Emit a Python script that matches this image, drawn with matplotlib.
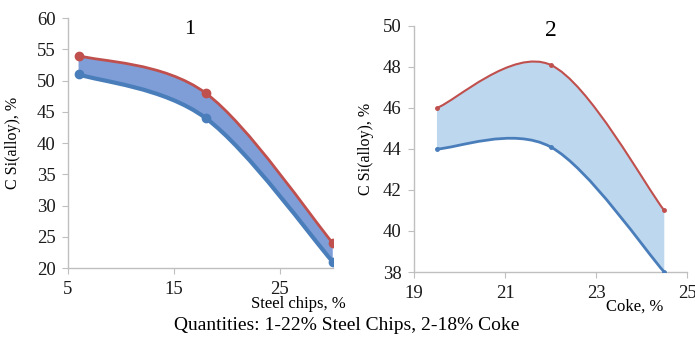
import numpy as np
import matplotlib
matplotlib.use("Agg")
import matplotlib.pyplot as plt
from matplotlib.path import Path
from matplotlib.patches import PathPatch

plt.rcParams['font.family'] = ['Liberation Serif', 'DejaVu Serif']

# chart 1: steel chips
chips_x = [6, 18, 30]
chips_upper = [54, 48, 24]
chips_lower = [51, 44, 21]

# chart 2: coke
coke_x = [19.5, 22, 24.5]
coke_upper = [46, 48.1, 41]
coke_lower = [44, 44.1, 38]

RED = "#c0504d"
BLUE = "#4a7ebb"
AXIS = "#bfbfbf"


def smooth_verts(x, y):
    # Excel-style smoothed line: Catmull-Rom as cubic bezier segments
    p = np.column_stack([x, y]).astype(float)
    n = len(p)
    verts = [p[0]]
    codes = [Path.MOVETO]
    for i in range(n - 1):
        prev = p[i - 1] if i > 0 else p[i]
        nxt = p[i + 2] if i + 2 < n else p[i + 1]
        c1 = p[i] + (p[i + 1] - prev) / 6
        c2 = p[i + 1] - (nxt - p[i]) / 6
        verts += [c1, c2, p[i + 1]]
        codes += [Path.CURVE4] * 3
    return verts, codes


def draw_band(ax, x, upper, lower, fill, lw_up, lw_low, ms):
    vu, cu = smooth_verts(x, upper)
    vl, cl = smooth_verts(x, lower)
    band_v = vu + [vl[-1]] + vl[::-1][1:] + [vu[0]]
    band_c = cu + [Path.LINETO] + [Path.CURVE4] * (len(vl) - 1) + [Path.CLOSEPOLY]
    ax.add_patch(PathPatch(Path(band_v, band_c), fc=fill, ec="none", zorder=2))
    ax.add_patch(PathPatch(Path(vl, cl), fill=False, ec=BLUE, lw=lw_low,
                           capstyle="round", zorder=3))
    ax.add_patch(PathPatch(Path(vu, cu), fill=False, ec=RED, lw=lw_up,
                           capstyle="round", zorder=4))
    ax.plot(x, lower, "o", color=BLUE, ms=ms, zorder=5)
    ax.plot(x, upper, "o", color=RED, ms=ms, zorder=5)


def style(ax):
    for s in ["top", "right"]:
        ax.spines[s].set_visible(False)
    for s in ["left", "bottom"]:
        ax.spines[s].set_color(AXIS)
        ax.spines[s].set_linewidth(1.0)
    ax.tick_params(direction="out", length=4, labelsize=13.5, pad=5,
                   colors=AXIS, labelcolor="#1a1a1a")


fig = plt.figure(figsize=(6.95, 3.41), dpi=100)

ax1 = fig.add_axes([0.0978, 0.214, 0.381, 0.733])
draw_band(ax1, chips_x, chips_upper, chips_lower, "#7f9ed8", 2.0, 3.0, 6)
ax1.set_xlim(5, 30)
ax1.set_ylim(20, 60)
ax1.set_xticks([5, 15, 25])
ax1.set_yticks(range(20, 61, 5))
style(ax1)
ax1.set_ylabel("C Si(alloy), %", fontsize=11.5)
ax1.yaxis.set_label_coords(-0.177, 0.5)
ax1.text(0.46, 0.955, "1", transform=ax1.transAxes, ha="center", va="center",
         fontsize=16)

ax2 = fig.add_axes([0.596, 0.2023, 0.3925, 0.7217])
draw_band(ax2, coke_x, coke_upper, coke_lower, "#bdd7ee", 1.5, 2.0, 2.5)
ax2.set_xlim(19, 25)
ax2.set_ylim(38, 50)
ax2.set_xticks([19, 21, 23, 25])
ax2.set_yticks(range(38, 51, 2))
style(ax2)
ax2.set_ylabel("C Si(alloy), %", fontsize=11.5)
ax2.yaxis.set_label_coords(-0.147, 0.5)
ax2.text(0.5, 0.98, "2", transform=ax2.transAxes, ha="center", va="center",
         fontsize=17)

fig.text(298 / 695, 1 - 304 / 341, "Steel chips, %", ha="center", va="center",
         fontsize=12)
fig.text(635 / 695, 1 - 307 / 341, "Coke, %", ha="center", va="center",
         fontsize=12)
fig.text(347 / 695, 1 - 326 / 341, "Quantities: 1-22% Steel Chips, 2-18% Coke",
         ha="center", va="center", fontsize=14)

fig.savefig("out.png", dpi=100, facecolor="white")
